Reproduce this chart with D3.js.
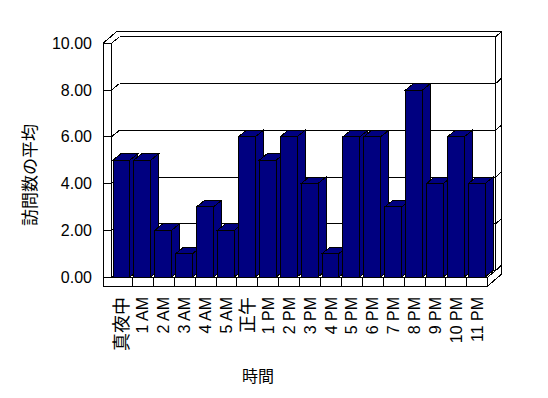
<!DOCTYPE html>
<html>
<head>
<meta charset="utf-8">
<script src="https://cdn.jsdelivr.net/npm/d3@7"></script>
<style>
  body { margin: 0; background: #fff; }
  text { font-family: "Liberation Sans", Arial, "Noto Sans CJK JP", sans-serif; fill: #000; }
</style>
</head>
<body>
<script>
const hours = ['真夜中', '1 AM', '2 AM', '3 AM', '4 AM', '5 AM', '正午', '1 PM', '2 PM', '3 PM',
  '4 PM', '5 PM', '6 PM', '7 PM', '8 PM', '9 PM', '10 PM', '11 PM']
const visits = [5, 5, 2, 1, 3, 2, 6, 5, 6, 4, 1, 6, 6, 3, 8, 4, 6, 4]
const yTicks = [0, 2, 4, 6, 8, 10]
const yTitle = '訪問数の平均'
const xTitle = '時間'

let width = 548, height = 398
// depth of the plot box (front plane -> back wall) and of the wall slabs
let dx = 8, dy = -6.5
let ox = 14, oy = -12
let wall = 8.5

var svg = d3.select("body").append("svg")
  .attr("width", width)
  .attr("height", height)
  .attr("shape-rendering", "crispEdges")

let x = d3.scaleBand().domain(hours).range([111.5, 487.7])
let y = d3.scaleLinear().domain([0, 10]).range([277, 43.3])

let left = x.range()[0], right = x.range()[1]
let floorY = y(0), floorB = floorY + 9
let topY = y(10)

function line(x1, y1, x2, y2) {
  svg.append("line")
    .attr("x1", x1).attr("y1", y1).attr("x2", x2).attr("y2", y2)
    .attr("stroke", "#000").attr("stroke-width", 1)
}

// outer edges of the box
line(left - wall + ox, topY + oy, right + ox, topY + oy)
line(left - wall, topY, left - wall + ox, topY + oy)
line(right + ox, topY + oy, right + ox, floorB + oy)
line(right, floorB, right + ox, floorB + oy)
line(right + dx, topY + dy, right + dx, floorY + dy)
line(right, floorY, right + dx, floorY + dy)

// left wall front face and floor front face
line(left - wall, topY, left - wall, floorB)
line(left - wall, floorB, right, floorB)
line(left, topY, left, floorY)
line(left, floorY, right, floorY)
line(right, floorY, right, floorB)
hours.slice(1).forEach(h => line(x(h), floorY, x(h), floorB))

// gridlines running over left wall, back wall and right edge
yTicks.forEach(t => {
  let yy = y(t)
  line(left - wall, yy, left, yy)
  line(left, yy, left + dx, yy + dy)
  line(left + dx, yy + dy, right + dx, yy + dy)
  line(right + dx, yy + dy, right + ox, yy + oy)
})

// bars, drawn left to right so each one covers the side of the one before
let bars = svg.append("g")
hours.forEach((h, i) => {
  let x0 = x(h) + 1.5
  let x1 = x(h) + x.bandwidth() - 2.5
  let yt = y(visits[i])
  let g = bars.append("g")
    .attr("fill", "#000080")
    .attr("stroke", "#000")
    .attr("stroke-width", 1)
  g.append("path")
    .attr("d", `M${x1},${yt}L${x1 + dx},${yt + dy}L${x1 + dx},${floorY + dy}L${x1},${floorY}Z`)
  g.append("path")
    .attr("d", `M${x0},${yt}L${x0 + dx},${yt + dy}L${x1 + dx},${yt + dy}L${x1},${yt}Z`)
  g.append("rect")
    .attr("x", x0).attr("y", yt)
    .attr("width", x1 - x0).attr("height", floorY - yt)
})

// y tick labels
svg.append("g").selectAll("text")
  .data(yTicks)
  .join("text")
  .attr("x", 92)
  .attr("y", d => y(d))
  .attr("dy", "0.35em")
  .attr("text-anchor", "end")
  .attr("font-size", 16)
  .text(d => d3.format(".2f")(d))

// x tick labels, rotated (kanji labels come out a little larger in the original)
svg.append("g").selectAll("text")
  .data(hours)
  .join("text")
  .attr("transform", d => `translate(${x(d) + x.bandwidth() / 2},297) rotate(-90)`)
  .attr("dy", "0.35em")
  .attr("text-anchor", "end")
  .attr("font-size", d => /[^\x00-\x7f]/.test(d) ? 18 : 16)
  .text(d => d)

// axis titles
svg.append("text")
  .attr("transform", "translate(30,175) rotate(-90)")
  .attr("dy", "0.35em")
  .attr("text-anchor", "middle")
  .attr("font-size", 17)
  .text(yTitle)

svg.append("text")
  .attr("x", 258)
  .attr("y", 382)
  .attr("text-anchor", "middle")
  .attr("font-size", 16)
  .text(xTitle)
</script>
</body>
</html>
